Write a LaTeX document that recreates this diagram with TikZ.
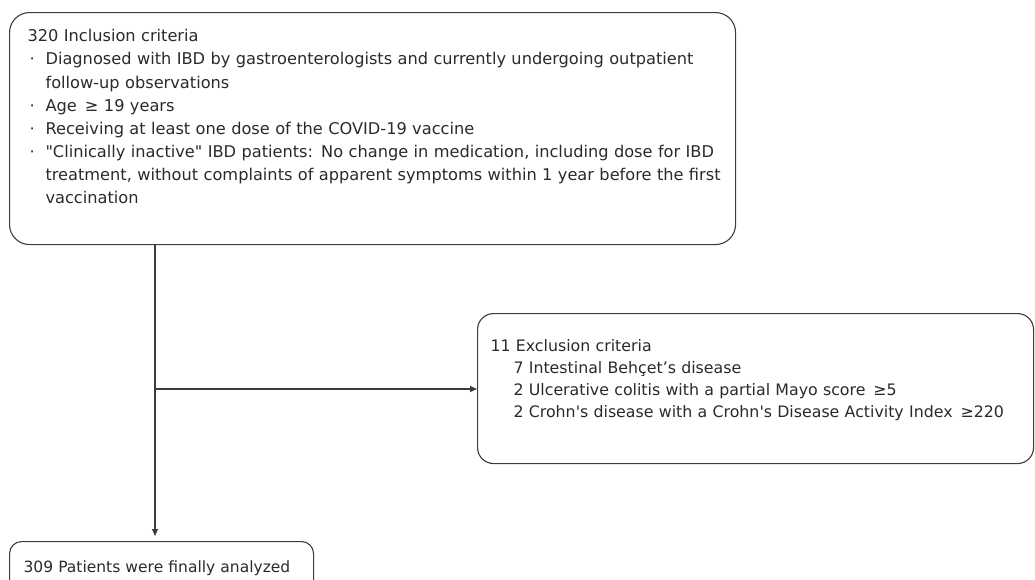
\documentclass[tikz,border=0pt]{standalone}
\usepackage{fontspec}
\setmainfont{DejaVu Sans}
\usetikzlibrary{arrows.meta,positioning,calc}
\definecolor{FlowGray}{HTML}{3C3C3C}
\definecolor{FlowText}{HTML}{2A2A2A}
\newcommand{\bul}{\hspace*{2pt}\makebox[16pt][l]{·}}
\newcommand{\cnt}{\hspace*{18pt}}
\newcommand{\sub}{\hspace*{23pt}}

\begin{document}
\begin{tikzpicture}[x=1pt,y=-1pt,>={Triangle[length=7pt,width=6pt]},
  critbox/.style={draw=FlowGray,line width=1.1pt,align=left,anchor=north west,
    text=FlowText,font=\fontsize{16.2}{23.1}\selectfont},
  flow/.style={draw=FlowGray,line width=1.1pt}]
  \useasboundingbox (0,0) rectangle (1035,579);
  \node[critbox,rounded corners=20pt,inner xsep=18pt,text width=690pt,minimum height=232pt] (incl) at (9,12)
    {320 Inclusion criteria\\
     \mbox{\bul Diagnosed with IBD by gastroenterologists and currently undergoing outpatient}\\
     \cnt follow-up observations\\
     \bul Age \,≥ 19 years\\
     \bul Receiving at least one dose of the COVID-19 vaccine\\
     \mbox{\bul \textquotedbl Clinically inactive\textquotedbl{} IBD patients: No change in medication, including dose for IBD}\\
     \mbox{\cnt treatment, without complaints of apparent symptoms within 1 year before the first}\\
     \cnt vaccination\rule[-24pt]{0pt}{0pt}};
  \node[critbox,rounded corners=16pt,inner xsep=13pt,text width=530pt,minimum height=150pt,
    font=\fontsize{15.8}{22}\selectfont] (excl) at (477,313)
    {11 Exclusion criteria\\
     \sub 7 Intestinal Behçet's disease\\
     \sub 2 Ulcerative colitis with a partial Mayo score \,≥5\\
     \sub 2 Crohn\textquotesingle s disease with a Crohn\textquotesingle s Disease Activity Index \,≥220\rule[-20pt]{0pt}{0pt}};
  \node[critbox,rounded corners=12pt,inner xsep=14pt,text width=276pt,minimum height=54pt,
    font=\fontsize{15.5}{22}\selectfont] (final) at (9,541)
    {309 Patients were finally analyzed};
  \coordinate (split) at (155,389);
  \draw[flow] (incl.south -| split) -- (split);
  \draw[flow,->,shorten >=5pt] (split) -- (split |- final.north);
  \draw[flow,->] (split) -- (split -| excl.west);
\end{tikzpicture}
\end{document}
